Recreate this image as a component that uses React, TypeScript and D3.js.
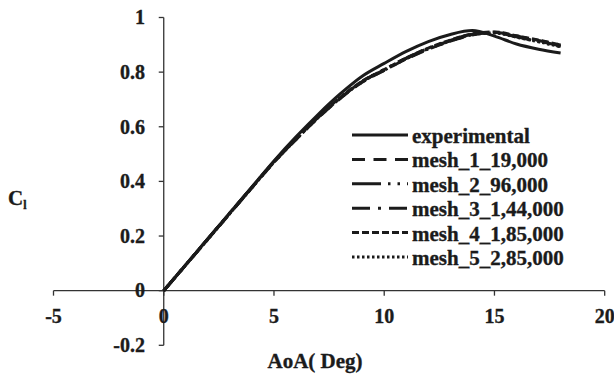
import React from "react";
import * as d3 from "d3";

// Angle of attack (deg) sampled for every curve
const aoa = [0, 1, 2, 3, 4, 5, 6, 7, 8, 9, 10, 11, 12, 13, 14, 15, 16, 17, 18];

// Lift coefficient series
const experimental = [0, 0.095, 0.19, 0.285, 0.38, 0.475, 0.563, 0.645, 0.72, 0.785, 0.832, 0.876, 0.912, 0.938, 0.952, 0.932, 0.903, 0.884, 0.87];
const mesh1 = [0, 0.094, 0.188, 0.282, 0.377, 0.47, 0.553, 0.632, 0.703, 0.763, 0.806, 0.848, 0.884, 0.913, 0.936, 0.946, 0.932, 0.916, 0.899];
const mesh2 = [0, 0.095, 0.19, 0.284, 0.379, 0.472, 0.556, 0.636, 0.706, 0.766, 0.81, 0.851, 0.887, 0.916, 0.939, 0.944, 0.929, 0.912, 0.894];
const mesh3 = [0, 0.094, 0.189, 0.283, 0.378, 0.471, 0.554, 0.634, 0.705, 0.765, 0.808, 0.85, 0.886, 0.915, 0.938, 0.945, 0.93, 0.914, 0.896];
const mesh4 = [0, 0.095, 0.189, 0.284, 0.378, 0.472, 0.555, 0.635, 0.707, 0.767, 0.809, 0.852, 0.888, 0.917, 0.94, 0.947, 0.933, 0.917, 0.9];
const mesh5 = [0, 0.094, 0.188, 0.283, 0.377, 0.47, 0.554, 0.633, 0.704, 0.764, 0.807, 0.849, 0.885, 0.914, 0.937, 0.943, 0.928, 0.911, 0.893];

const seriesNames = ["experimental", "mesh_1_19,000", "mesh_2_96,000", "mesh_3_1,44,000", "mesh_4_1,85,000", "mesh_5_2,85,000"];
const seriesValues = [experimental, mesh1, mesh2, mesh3, mesh4, mesh5];
const seriesDash = ["none", "13,8.5", "29,7,2.5,7,2.5,7", "18,8,3,8", "7,3", "2.5,2.5"];

const xTicks = [-5, 0, 5, 10, 15, 20];
const yTicks = [-0.2, 0, 0.2, 0.4, 0.6, 0.8, 1];

const FONT = "'Liberation Serif', 'Times New Roman', serif";
const INK = "#1b1b1b";

// plain hyphen for negatives, as printed on the axes
const fmt = (v: number) => String(v);

export default function App() {
  const x = d3.scaleLinear().domain([-5, 20]).range([53.5, 604.7]);
  const y = d3.scaleLinear().domain([-0.2, 1]).range([345.3, 17.5]);

  const line = d3
    .line<number>()
    .x((_, i) => x(aoa[i]))
    .y((d) => y(d))
    .curve(d3.curveMonotoneX);

  const legendX0 = 352;
  const legendX1 = 408;
  const legendY0 = 135;
  const legendStep = 24.4;

  const textStroke = { stroke: INK, strokeWidth: 0.35 };

  return (
    <svg
      width={614}
      height={376}
      style={{ position: "absolute", left: 0, top: 0, background: "#fff" }}
      fontFamily={FONT}
      fontWeight="bold"
    >
      {/* axes */}
      <g stroke="#333" strokeWidth={1.3} fill="none">
        <line x1={x(0)} x2={x(0)} y1={y(1)} y2={y(-0.2)} />
        {yTicks.map((t) => (
          <line key={t} x1={x(0) - 5} x2={x(0)} y1={y(t)} y2={y(t)} />
        ))}
        <line x1={x(-5)} x2={x(20)} y1={y(0)} y2={y(0)} />
        {xTicks.map((t) => (
          <line key={t} x1={x(t)} x2={x(t)} y1={y(0)} y2={y(0) + 5} />
        ))}
      </g>

      {/* tick labels */}
      <g fill={INK} fontSize={20} {...textStroke}>
        {yTicks.map((t) => (
          <text key={t} x={145} y={y(t)} dy="0.34em" textAnchor="end">
            {fmt(t)}
          </text>
        ))}
        {xTicks.map((t) => (
          <text key={t} x={x(t)} y={323} textAnchor="middle">
            {fmt(t)}
          </text>
        ))}
      </g>

      {/* axis titles */}
      <text x={315} y={368} textAnchor="middle" fontSize={21} fill={INK} {...textStroke}>
        AoA( Deg)
      </text>
      <text x={8} y={205} fontSize={21} fill={INK} {...textStroke}>
        C
        <tspan fontSize={12} dy={4}>
          l
        </tspan>
      </text>

      {/* curves */}
      <g fill="none" stroke={INK} strokeWidth={3}>
        {seriesValues.map((vals, i) => (
          <path
            key={seriesNames[i]}
            d={line(vals) || ""}
            strokeDasharray={seriesDash[i] === "none" ? undefined : seriesDash[i]}
          />
        ))}
      </g>

      {/* legend */}
      <g>
        {seriesNames.map((name, i) => {
          const ly = legendY0 + i * legendStep;
          return (
            <g key={name}>
              <line
                x1={legendX0}
                x2={legendX1}
                y1={ly}
                y2={ly}
                stroke={INK}
                strokeWidth={3}
                strokeDasharray={seriesDash[i] === "none" ? undefined : seriesDash[i]}
              />
              <text x={legendX1 + 4} y={ly + 8} fontSize={21} fill={INK} {...textStroke}>
                {name}
              </text>
            </g>
          );
        })}
      </g>
    </svg>
  );
}
